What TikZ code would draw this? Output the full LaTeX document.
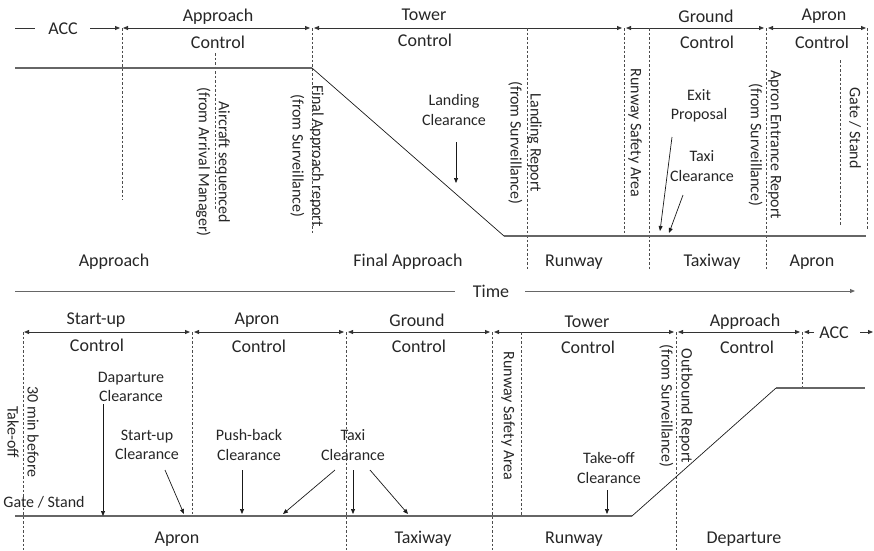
\documentclass[tikz,border=0pt]{standalone}
\usepackage{fontspec}
\setmainfont{Carlito}
\usepackage{tikz}
\usetikzlibrary{arrows.meta, positioning}
\def\topY{28}
\def\botY{332}
\def\gndY{516}

\begin{document}
\begin{tikzpicture}[
    x=1pt, y=-1pt,
    >={Triangle[length=5pt,width=4pt]},
    every node/.style={text=black!85},
    lbl/.style={font=\fontsize{18}{22}\selectfont},
    note/.style={font=\fontsize{16}{19.5}\selectfont, align=center, inner sep=0pt},
    vnote/.style={note, font=\fontsize{16}{20}\selectfont, rotate=-90},
    phase/.style={<->, draw=black!80, line width=0.8pt},
    guide/.style={draw=black!70, line width=0.6pt, dash pattern=on 2.5pt off 2pt},
    track/.style={draw=black!60, line width=1.3pt},
    slope/.style={draw=black!90, line width=0.7pt},
    clr/.style={->, draw=black!90, line width=0.7pt}
]
\useasboundingbox (0,0) rectangle (874,550);

% ---------------- arrival ----------------
% control phases
\node[lbl] (accA) at (63,29) {ACC};
\draw[phase, -] (15,\topY) -- (35,\topY);
\draw[phase, ->] (90,\topY) -- (120,\topY);
\foreach \a/\b in {123/310, 314/622, 626/764, 768/866}
    \draw[phase] (\a,\topY) -- (\b,\topY);
\node[lbl] (apprA) at (218,17) {Approach};
\node[lbl] (apprAc) at (218,42) {Control};
\node[lbl] (twrA) at (424,15) {Tower};
\node[lbl] (twrAc) at (425,40) {Control};
\node[lbl] (gndA) at (706,16) {Ground};
\node[lbl] (gndAc) at (707,42) {Control};
\node[lbl] (aprA) at (824,16) {Apron};
\node[lbl] (aprAc) at (822,42) {Control};

% guides
\foreach \x/\s/\e in {122/\topY/200, 215/53/210, 312/\topY/233, 527/\topY/270,
                      624/\topY/236, 649/\topY/270, 766/\topY/270, 840/60/225, 867/\topY/230}
    \draw[guide] (\x,\s) -- (\x,\e);

% trajectory
\coordinate (fafA) at (312,68);
\coordinate (tdA) at (504,236);
\draw[track] (15,68) -- (fafA);
\draw[slope] (fafA) -- (tdA);
\draw[track] (tdA) -- (866,236);

% events
\node[vnote] (seqA) at (213,162) {Aircraft sequenced\\(from Arrival Manager)};
\node[vnote] (farA) at (307,156) {Final Approach report\\(from Surveillance)};
\node[vnote] (lrA) at (525,143) {Landing Report\\(from Surveillance)};
\node[vnote] (rsaA) at (635,133) {Runway Safety Area};
\node[vnote] (aerA) at (765,145) {Apron Entrance Report\\(from Surveillance)};
\node[vnote] (gateA) at (855,128) {Gate / Stand};

\node[note] (lcA) at (454,110) {Landing\\Clearance};
\coordinate (lcS) at (456,142);
\coordinate (lcE) at (456,183);
\draw[clr] (lcS) -- (lcE);

\node[note] (exA) at (699,106) {Exit\\Proposal};
\coordinate (exS) at (672,137);
\coordinate (exE) at (660,231);
\draw[clr] (exS) -- (exE);

\node[note] (txA) at (702,166) {Taxi\\Clearance};
\coordinate (txS) at (683,195);
\coordinate (txE) at (669,233);
\draw[clr] (txS) -- (txE);

% areas
\node[lbl] (areaAppr) at (114,262) {Approach};
\node[lbl] (areaFin) at (408,262) {Final Approach};
\node[lbl] (areaRwyA) at (574,262) {Runway};
\node[lbl] (areaTwyA) at (712,262) {Taxiway};
\node[lbl] (areaAprA) at (812,262) {Apron};

% ---------------- time ----------------
\node[lbl] (time) at (491,291) {Time};
\coordinate (timeL) at (15,291);
\coordinate (timeM) at (455,291);
\coordinate (timeN) at (525,291);
\coordinate (timeR) at (855,291);
\draw[track, line width=1pt] (timeL) -- (timeM);
\draw[track, line width=1pt, ->] (timeN) -- (timeR);

% ---------------- departure ----------------
\foreach \a/\b in {24/190, 194/344, 348/490, 494/674, 678/800}
    \draw[phase] (\a,\botY) -- (\b,\botY);
\draw[phase, ->] (814,\botY) -- (804,\botY);
\draw[phase, ->] (860,\botY) -- (873,\botY);
\node[lbl] (supD) at (96,320) {Start-up};
\node[lbl] (supDc) at (97,345) {Control};
\node[lbl] (aprD) at (257,320) {Apron};
\node[lbl] (aprDc) at (259,346) {Control};
\node[lbl] (gndD) at (417,320) {Ground};
\node[lbl] (gndDc) at (419,346) {Control};
\node[lbl] (twrD) at (587,322) {Tower};
\node[lbl] (twrDc) at (588,347) {Control};
\node[lbl] (apprD) at (745,322) {Approach};
\node[lbl] (apprDc) at (747,347) {Control};
\node[lbl] (accD) at (834,333) {ACC};

% guides
\foreach \x/\s/\e in {23/\botY/550, 192/\botY/514, 346/\botY/550, 492/\botY/550,
                      521/\botY/\gndY, 676/\botY/550, 802/\botY/388}
    \draw[guide] (\x,\s) -- (\x,\e);

% trajectory
\coordinate (rotD) at (632,\gndY);
\coordinate (clbD) at (776,388);
\draw[track] (15,\gndY) -- (rotD);
\draw[slope] (rotD) -- (clbD);
\draw[track] (clbD) -- (865,388);

% events
\node[vnote] (minD) at (23,432) {30 min before\\Take-off};
\node[note] (gateD) at (44,502) {Gate / Stand};
\node[vnote] (rsaD) at (508,416) {Runway Safety Area};
\node[vnote] (obD) at (676,406) {Outbound Report\\(from Surveillance)};

\node[note] (dcD) at (131,387) {Daparture\\Clearance};
\coordinate (dcS) at (103,404);
\coordinate (dcE) at (103,\gndY);
\draw[clr] (dcS) -- (dcE);

\node[note] (scD) at (147,445) {Start-up\\Clearance};
\coordinate (scS) at (165,470);
\coordinate (scE) at (184,514);
\draw[clr] (scS) -- (scE);

\node[note] (pbD) at (249,445) {Push-back\\Clearance};
\coordinate (pbS) at (242,470);
\coordinate (pbE) at (242,514);
\draw[clr] (pbS) -- (pbE);

\node[note] (txD) at (353,445) {Taxi\\Clearance};
\coordinate (txS1) at (335,470);
\coordinate (txE1) at (283,514);
\coordinate (txS2) at (353,470);
\coordinate (txE2) at (353,514);
\coordinate (txS3) at (370,470);
\coordinate (txE3) at (408,514);
\draw[clr] (txS1) -- (txE1);
\draw[clr] (txS2) -- (txE2);
\draw[clr] (txS3) -- (txE3);

\node[note] (toD) at (609,468) {Take-off\\Clearance};
\coordinate (toS) at (607,490);
\coordinate (toE) at (607,514);
\draw[clr] (toS) -- (toE);

% areas
\node[lbl] (areaAprD) at (177,539) {Apron};
\node[lbl] (areaTwyD) at (423,539) {Taxiway};
\node[lbl] (areaRwyD) at (574,539) {Runway};
\node[lbl] (areaDep) at (744,539) {Departure};
\end{tikzpicture}
\end{document}
